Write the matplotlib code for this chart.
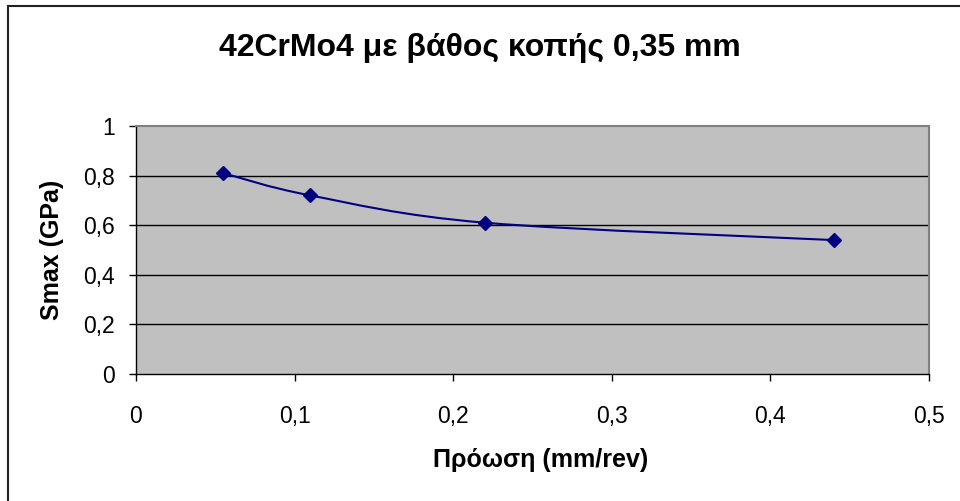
import matplotlib
matplotlib.use("Agg")
import matplotlib.pyplot as plt
from matplotlib.path import Path
from matplotlib.patches import PathPatch, Rectangle

# feed (mm/rev) vs maximum stress (GPa)
feed = [0.055, 0.11, 0.22, 0.44]
smax = [0.81, 0.72, 0.61, 0.54]

title = "42CrMo4 με βάθος κοπής 0,35 mm"
xlabel = "Πρόωση (mm/rev)"
ylabel = "Smax (GPa)"
xticks = [0, 0.1, 0.2, 0.3, 0.4, 0.5]
yticks = [0, 0.2, 0.4, 0.6, 0.8, 1.0]

plt.rcParams['font.family'] = ['Liberation Sans', 'DejaVu Sans']


def smooth_path(xs, ys):
    """Bezier path through the points, control points like a Catmull-Rom spline."""
    pts = list(zip(xs, ys))
    ext = [pts[0]] + pts + [pts[-1]]
    verts = [pts[0]]
    codes = [Path.MOVETO]
    for i in range(1, len(ext) - 2):
        p0, p1, p2, p3 = ext[i - 1], ext[i], ext[i + 1], ext[i + 2]
        c1 = (p1[0] + (p2[0] - p0[0]) / 6, p1[1] + (p2[1] - p0[1]) / 6)
        c2 = (p2[0] - (p3[0] - p1[0]) / 6, p2[1] - (p3[1] - p1[1]) / 6)
        verts += [c1, c2, p2]
        codes += [Path.CURVE4] * 3
    return Path(verts, codes)


fig = plt.figure(figsize=(9.6, 5.01), dpi=100)
ax = fig.add_axes([136 / 960, 1 - 374 / 501, (929 - 136) / 960, (374 - 126) / 501])
ax.set_facecolor('#c0c0c0')

# chart border
fig.patches.append(Rectangle((8 / 960, -0.05), 1.2, 1 - 6 / 501 + 0.05,
                             transform=fig.transFigure, fill=False,
                             edgecolor='#222222', linewidth=1.5))

ax.add_patch(PathPatch(smooth_path(feed, smax), fill=False,
                       edgecolor='#000080', linewidth=1.5, zorder=3))
ax.plot(feed, smax, linestyle='none', marker='D', markersize=7.5,
        color='#000080', zorder=4)

ax.set_xlim(0, 0.5)
ax.set_ylim(0, 1)
ax.set_xticks(xticks)
ax.set_yticks(yticks)
ax.set_xticklabels([f"{t:g}".replace('.', ',') for t in xticks], fontsize=16.5)
ax.set_yticklabels([f"{t:g}".replace('.', ',') for t in yticks], fontsize=16.5)
ax.tick_params(direction='out', length=5, width=1, color='black')
ax.tick_params(axis='x', pad=17)
ax.tick_params(axis='y', pad=10)

for y in yticks[1:-1]:
    ax.axhline(y, color='black', linewidth=1, zorder=1)

for side in ['left', 'bottom']:
    ax.spines[side].set_color('black')
    ax.spines[side].set_linewidth(1)
for side in ['top', 'right']:
    ax.spines[side].set_color('#808080')
    ax.spines[side].set_linewidth(1.5)

fig.suptitle(title, x=0.5, y=1 - 48 / 501, va='center',
             fontsize=23, fontweight='bold')
ax.set_xlabel(xlabel, fontsize=18, fontweight='bold', va='center')
ax.xaxis.set_label_coords(0.51, (374 - 460) / 248)
ax.set_ylabel(ylabel, fontsize=18, fontweight='bold', va='center')
ax.yaxis.set_label_coords((52 - 136) / 793, 0.5)

fig.savefig("out.png", dpi=100)
